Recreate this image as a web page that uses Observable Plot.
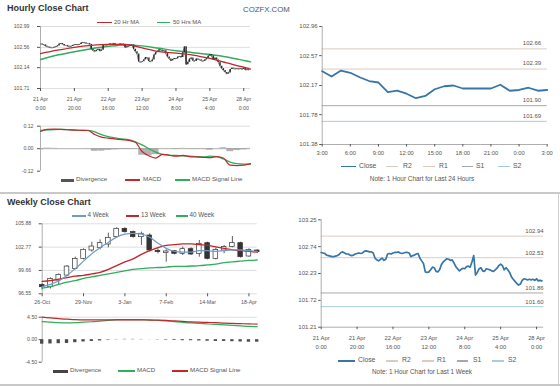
<!DOCTYPE html>
<html><head><meta charset="utf-8">
<script src="https://cdn.jsdelivr.net/npm/d3@7"></script>
<script src="https://cdn.jsdelivr.net/npm/@observablehq/plot@0.6"></script>
<style>
body{margin:0;background:#fff;}
#root{position:relative;width:560px;height:386px;overflow:hidden;font-family:"Liberation Sans",Arial,sans-serif;background:#fff;}
</style></head><body><div id="root"></div>
<script>
// ---------- DATA ----------
const hrTicks = [0,20,40,60,80,100,120];
const hrTickLabels = ["21 Apr\n0:00","21 Apr\n20:00","22 Apr\n16:00","23 Apr\n12:00","24 Apr\n8:00","25 Apr\n4:00","28 Apr\n0:00"];
const hrYTicks = [101.71,102.14,102.56,102.99];
const hourClose = [102.63,102.62,102.61,102.58,102.57,102.56,102.55,102.55,102.56,102.57,
 102.59,102.63,102.64,102.62,102.60,102.60,102.58,102.57,102.58,102.60,
 102.61,102.62,102.61,102.62,102.65,102.66,102.65,102.64,102.64,102.62,
 102.52,102.49,102.47,102.50,102.52,102.48,102.50,102.60,102.61,102.60,
 102.62,102.63,102.63,102.64,102.62,102.61,102.62,102.63,102.63,102.62,
 102.55,102.57,102.58,102.60,102.61,102.52,102.47,102.42,102.26,102.25,
 102.26,102.30,102.35,102.34,102.27,102.26,102.30,102.40,102.45,102.48,
 102.51,102.50,102.48,102.49,102.43,102.36,102.32,102.28,102.31,102.33,
 102.32,102.36,102.37,102.35,102.45,102.57,102.20,102.25,102.32,102.34,
 102.28,102.27,102.32,102.31,102.30,102.28,102.27,102.30,102.33,102.38,
 102.41,102.38,102.30,102.34,102.30,102.25,102.17,102.12,102.08,102.04,
 102.01,102.03,102.10,102.13,102.12,102.11,102.12,102.11,102.12,102.10,
 102.13,102.09,102.10,102.09];
const maHours = [0,10,20,30,40,50,60,70,80,90,100,110,120,124];
const ma20 = [102.43,102.50,102.56,102.60,102.62,102.62,102.55,102.47,102.44,102.40,102.33,102.24,102.15,102.11];
const ma50 = [102.31,102.40,102.47,102.53,102.58,102.61,102.59,102.54,102.49,102.45,102.41,102.36,102.29,102.26];

const macdHours = [0,4,8,12,16,20,24,28,32,36,40,44,48,52,56,60,64,68,72,76,80,84,88,92,96,100,104,108,112,116,120,124];
const hMacd = [0.092,0.103,0.104,0.103,0.101,0.099,0.098,0.097,0.076,0.062,0.056,0.052,0.048,0.044,0.034,-0.015,-0.038,-0.050,-0.030,-0.035,-0.040,-0.036,-0.042,-0.044,-0.046,-0.048,-0.042,-0.050,-0.088,-0.090,-0.088,-0.080];
const hSignal = [0.098,0.100,0.102,0.103,0.102,0.100,0.098,0.098,0.090,0.075,0.065,0.058,0.052,0.048,0.036,0.020,0.000,-0.018,-0.030,-0.034,-0.036,-0.038,-0.040,-0.042,-0.044,-0.040,-0.042,-0.055,-0.072,-0.080,-0.082,-0.082];
const hDiv = [-0.006,0.003,0.002,0,0,0,0,-0.001,-0.014,-0.013,-0.009,-0.006,-0.004,-0.004,-0.002,-0.035,-0.038,-0.032,0,-0.001,-0.004,0.002,-0.002,-0.002,-0.002,-0.008,0,0.005,-0.016,-0.010,-0.006,0.002];
const hMacdTicks = [-0.12,0,0.12];

const wkTicks = [0,5,10,15,20,25];
const wkTickLabels = ["26-Oct","29-Nov","3-Jan","7-Feb","14-Mar","18-Apr"];
const wkYTicks = [96.55,99.66,102.77,105.88];
const wkOpen  = [97.74,97.43,98.32,98.98,99.87,101.21,102.32,102.68,103.12,104.10,105.21,104.77,104.10,104.32,102.28,102.01,102.23,101.88,102.50,101.88,103.30,101.21,102.32,102.77,103.30,101.52,102.32];
const wkClose = [97.43,98.54,99.07,100.18,101.21,102.41,102.85,103.30,104.01,105.21,104.77,104.10,104.55,102.32,102.10,102.19,101.88,102.50,101.79,103.21,101.21,102.41,102.77,103.30,101.43,102.41,102.10];
const wkHigh  = [97.87,98.67,99.21,100.32,101.43,102.54,103.43,103.74,104.63,105.35,105.35,104.90,104.77,104.55,102.54,102.41,102.32,102.77,102.68,103.66,103.43,102.63,102.99,104.19,103.43,102.54,102.41];
const wkLow   = [97.07,97.20,97.65,98.85,99.74,101.07,102.10,102.41,102.68,104.01,104.63,103.97,102.99,102.10,101.88,100.76,101.74,101.65,101.65,101.43,101.07,101.07,101.88,102.68,101.30,101.43,101.96];
const wk4  = [97.5,97.8,98.3,99.0,99.9,100.9,101.9,102.7,103.4,104.1,104.5,104.6,104.5,104.1,103.3,102.6,102.2,102.1,102.1,102.3,102.3,102.2,102.3,102.4,102.4,102.3,102.2];
const wk13 = [98.2,98.3,98.5,98.7,98.9,99.0,99.2,99.4,99.8,100.3,100.8,101.2,101.8,102.3,102.7,103.0,103.1,103.2,103.2,103.1,103.0,102.8,102.6,102.4,102.3,102.2,102.1];
const wk40 = [97.3,97.5,97.8,98.1,98.3,98.6,98.8,99.0,99.2,99.4,99.6,99.8,99.9,100.0,100.05,100.1,100.2,100.2,100.25,100.3,100.4,100.5,100.7,100.8,100.9,101.0,101.05];
const wMacd   = [3.6,3.5,3.4,3.35,3.4,3.5,3.6,3.7,3.85,4.0,4.03,4.03,4.0,3.95,3.85,3.75,3.6,3.45,3.35,3.25,3.15,3.05,2.95,2.85,2.75,2.65,2.6];
const wSignal = [4.5,4.35,4.2,4.1,4.0,3.95,3.95,3.95,3.95,3.95,3.96,3.96,3.95,3.93,3.9,3.85,3.75,3.65,3.55,3.5,3.45,3.4,3.3,3.25,3.2,3.16,3.12];
const wDiv    = [-0.9,-0.85,-0.8,-0.75,-0.6,-0.45,-0.35,-0.25,-0.1,0.05,0.07,0.07,0.05,0.02,-0.05,-0.1,-0.15,-0.2,-0.2,-0.25,-0.3,-0.35,-0.35,-0.4,-0.45,-0.5,-0.5];
const wMacdTicks = [-4.5,0,4.5];

const d24Ticks = [0,3,6,9,12,15,18,21,24];
const d24TickLabels = ["3:00","6:00","9:00","12:00","15:00","18:00","21:00","0:00","3:00"];
const d24YTicks = [101.38,101.78,102.17,102.57,102.96];
const close24 = [102.36,102.29,102.37,102.34,102.28,102.23,102.21,102.08,102.10,102.06,102.00,102.03,102.12,102.16,102.17,102.13,102.13,102.13,102.13,102.18,102.10,102.11,102.14,102.10,102.11];
const levelNames = ["R2","R1","S1","S2"];
const levelColors = ["#d8cdbf","#e5c7bf","#a8a8a8","#a9cce6"];
const levels24 = [102.66,102.39,101.90,101.69];
const levelsWk = [102.94,102.53,101.86,101.60];
const wkHrYTicks = [101.21,101.72,102.23,102.74,103.25];

// ---------- HELPERS ----------
const root = document.getElementById("root");
const RED = "#c1272d", GREEN = "#2fae5c", BLUE = "#6f9cc6", CLOSE = "#3676a8";
const FONT = "Liberation Sans, Arial, sans-serif";
function place(el, left, top){ el.style.position="absolute"; el.style.left=left+"px"; el.style.top=top+"px"; root.appendChild(el); }
function text(str, left, cy, fs, opts={}){
  const d=document.createElement("div"); d.textContent=str;
  d.style.cssText=`position:absolute;top:${cy-fs/2-0.5}px;font-size:${fs}px;line-height:1;color:${opts.color||"#555"};white-space:nowrap;font-weight:${opts.bold?"bold":"normal"};`;
  if (opts.center){ d.style.left=(left-100)+"px"; d.style.width="200px"; d.style.textAlign="center"; } else d.style.left=left+"px";
  root.appendChild(d);
}
function box(left, top, w, h, c){ const d=document.createElement("div"); d.style.cssText=`position:absolute;left:${left}px;top:${top}px;width:${w}px;height:${h}px;background:${c};`; root.appendChild(d); }
function legend(cy, items, fs){
  items.forEach(it=>{ const t=it.t||1.2; box(it.x1, cy-t/2, it.x2-it.x1, t, it.c); text(it.label, it.tx, cy, fs); });
}
const style = {fontFamily:FONT, background:"transparent", color:"#555", overflow:"visible"};

// ---------- HOURLY CANDLE ----------
const hourly = hourClose.map((c,i)=>({h:i, close:c, open: i>0 ? hourClose[i-1] : c}));
const maData = maHours.map((h,i)=>({h, ma20:ma20[i], ma50:ma50[i]}));
place(Plot.plot({
  width:280, height:112, marginLeft:40, marginRight:30, marginTop:26, marginBottom:24, style,
  x:{domain:[0,124]}, y:{domain:[101.71,102.99]},
  marks:[
    Plot.ruleY(hrYTicks,{stroke:"#d6d6d6", strokeWidth:0.8}),
    Plot.ruleX([0],{stroke:"#999", strokeWidth:0.8}),
    Plot.line(maData,{x:"h", y:"ma50", stroke:GREEN, strokeWidth:1.5, curve:"monotone-x"}),
    Plot.line(hourly,{x:"h", y:"close", stroke:"#555", strokeWidth:0.8}),
    Plot.ruleX(hourly,{x:"h", y1:"open", y2:"close", stroke:"#2a2a2a", strokeWidth:1.4}),
    Plot.line(maData,{x:"h", y:"ma20", stroke:RED, strokeWidth:1.3, curve:"monotone-x"}),
    Plot.axisY({ticks:hrYTicks, tickFormat:d=>d.toFixed(2), tickSize:3, tickPadding:8, fontSize:5.2, label:null}),
    Plot.axisX({ticks:hrTicks, tickFormat:d=>hrTickLabels[d/20], tickSize:3, tickPadding:4, fontSize:5.2, lineHeight:1.6, label:null})
  ]
}), 0, 0);

// ---------- HOURLY MACD ----------
const hm = macdHours.map((h,i)=>({h, macd:hMacd[i], sig:hSignal[i], div:hDiv[i]}));
place(Plot.plot({
  width:280, height:55, marginLeft:40, marginRight:30, marginTop:5.7, marginBottom:4.3, style,
  x:{domain:[0,124], axis:null}, y:{domain:[-0.12,0.12]},
  marks:[
    Plot.ruleY([0.12],{stroke:"#d6d6d6", strokeWidth:0.8}),
    Plot.rect(hm,{x1:d=>Math.max(0,d.h-2), x2:d=>Math.min(124,d.h+2), y1:d=>0, y2:"div", fill:"#b3b3b3"}),
    Plot.ruleY([0],{stroke:"#999", strokeWidth:0.8}),
    Plot.ruleX([0],{stroke:"#999", strokeWidth:0.8}),
    Plot.line(hm,{x:"h", y:"sig", stroke:GREEN, strokeWidth:1.3, curve:"monotone-x"}),
    Plot.line(hm,{x:"h", y:"macd", stroke:RED, strokeWidth:1.2, curve:"monotone-x"}),
    Plot.axisY({ticks:hMacdTicks, tickFormat:d=>d.toFixed(2), tickSize:3, tickPadding:4, fontSize:5.2, label:null})
  ]
}), 0, 120);

// ---------- WEEKLY CANDLE ----------
const wk = wkOpen.map((o,i)=>({i, open:o, close:wkClose[i], high:wkHigh[i], low:wkLow[i], m4:wk4[i], m13:wk13[i], m40:wk40[i]}));
place(Plot.plot({
  width:280, height:110, marginLeft:41.7, marginRight:23.3, marginTop:23.3, marginBottom:16.7, style,
  x:{domain:[0,26]}, y:{domain:[96.55,105.88]},
  marks:[
    Plot.ruleY(wkYTicks,{stroke:"#d6d6d6", strokeWidth:0.8}),
    Plot.ruleX([0],{stroke:"#999", strokeWidth:0.8}),
    Plot.ruleX(wk,{x:"i", y1:"low", y2:"high", stroke:"#333", strokeWidth:0.8}),
    Plot.rect(wk.filter(d=>d.close>=d.open),{x1:d=>d.i-0.28, x2:d=>d.i+0.28, y1:"open", y2:"close", fill:"#fff", stroke:"#333", strokeWidth:0.7}),
    Plot.rect(wk.filter(d=>d.close<d.open),{x1:d=>d.i-0.28, x2:d=>d.i+0.28, y1:"open", y2:"close", fill:"#333", stroke:"#333", strokeWidth:0.7}),
    Plot.line(wk,{x:"i", y:"m40", stroke:GREEN, strokeWidth:1.4, curve:"monotone-x"}),
    Plot.line(wk,{x:"i", y:"m13", stroke:RED, strokeWidth:1.4, curve:"monotone-x"}),
    Plot.line(wk,{x:"i", y:"m4", stroke:BLUE, strokeWidth:1.2, curve:"monotone-x"}),
    Plot.axisY({ticks:wkYTicks, tickFormat:d=>d.toFixed(2), tickSize:3, tickPadding:8, fontSize:5.2, label:null}),
    Plot.axisX({ticks:wkTicks, tickFormat:d=>wkTickLabels[d/5], tickSize:3, tickPadding:3, fontSize:5.3, label:null})
  ]
}), 0, 200);

// ---------- WEEKLY MACD ----------
const wm = wMacd.map((m,i)=>({i, macd:m, sig:wSignal[i], div:wDiv[i]}));
place(Plot.plot({
  width:280, height:56, marginLeft:41.7, marginRight:23.3, marginTop:6.7, marginBottom:4.3, style,
  x:{domain:[0,26], axis:null}, y:{domain:[-4.5,4.5]},
  marks:[
    Plot.ruleY([4.5],{stroke:"#d6d6d6", strokeWidth:0.8}),
    Plot.ruleX([0],{stroke:"#999", strokeWidth:0.8}),
    Plot.rect(wm,{x1:d=>d.i-0.2, x2:d=>d.i+0.2, y1:d=>0, y2:"div", fill:"#4a4a4a"}),
    Plot.line(wm,{x:"i", y:"macd", stroke:GREEN, strokeWidth:1.2, curve:"monotone-x"}),
    Plot.line(wm,{x:"i", y:"sig", stroke:RED, strokeWidth:1.2, curve:"monotone-x"}),
    Plot.axisY({ticks:wMacdTicks, tickFormat:d=>d.toFixed(2), tickSize:3, tickPadding:2, fontSize:5.2, label:null})
  ]
}), 0, 310);

// ---------- 24 HOUR CLOSE ----------
const d24 = close24.map((c,i)=>({h:i, c}));
const lv24 = levelNames.map((n,i)=>({n, v:levels24[i], col:levelColors[i]}));
place(Plot.plot({
  width:280, height:162, marginLeft:41.7, marginRight:13.3, marginTop:26, marginBottom:18, style,
  x:{domain:[0,24]}, y:{domain:[101.38,102.96]}, color:{type:"identity"},
  marks:[
    Plot.ruleY(lv24,{y:"v", stroke:"col", strokeWidth:1}),
    Plot.text(lv24,{x:d=>24, y:"v", text:d=>d.v.toFixed(2), textAnchor:"end", dx:-6, dy:-5.5, fontSize:6, fill:"#555"}),
    Plot.ruleX([0],{stroke:"#999", strokeWidth:0.8}),
    Plot.ruleY([101.38],{stroke:"#999", strokeWidth:0.8}),
    Plot.line(d24,{x:"h", y:"c", stroke:CLOSE, strokeWidth:1.8}),
    Plot.axisY({ticks:d24YTicks, tickFormat:d=>d.toFixed(2), tickSize:2.5, tickPadding:2, fontSize:6, label:null}),
    Plot.axisX({ticks:d24Ticks, tickFormat:d=>d24TickLabels[d/3], tickSize:2.5, tickPadding:4, fontSize:5.8, label:null})
  ]
}), 280, 0);

// ---------- 1 WEEK HOURLY CLOSE ----------
const lvWk = levelNames.map((n,i)=>({n, v:levelsWk[i], col:levelColors[i]}));
place(Plot.plot({
  width:280, height:152, marginLeft:40.7, marginRight:16.8, marginTop:19.3, marginBottom:25.3, style,
  x:{domain:[0,124]}, y:{domain:[101.21,103.25]}, color:{type:"identity"},
  marks:[
    Plot.ruleY(lvWk,{y:"v", stroke:"col", strokeWidth:1}),
    Plot.text(lvWk,{x:d=>124, y:"v", text:d=>d.v.toFixed(2), textAnchor:"end", dx:0, dy:-5, fontSize:6, fill:"#555"}),
    Plot.ruleX([0],{stroke:"#999", strokeWidth:0.8}),
    Plot.ruleY([101.21],{stroke:"#999", strokeWidth:0.8}),
    Plot.line(hourly,{x:"h", y:"close", stroke:CLOSE, strokeWidth:1.7}),
    Plot.axisY({ticks:wkHrYTicks, tickFormat:d=>d.toFixed(2), tickSize:2.5, tickPadding:2, fontSize:6, label:null}),
    Plot.axisX({ticks:hrTicks, tickFormat:d=>hrTickLabels[d/20], tickSize:2.5, tickPadding:5, fontSize:5.8, lineHeight:1.4, label:null})
  ]
}), 280, 200);

// ---------- TEXT, LEGENDS, FRAMES ----------
text("Hourly Close Chart", 7, 9.3, 9, {bold:true, color:"#333"});
text("COZFX.COM", 243, 10, 7.8, {color:"#555"});
text("Weekly Close Chart", 7, 202.7, 9, {bold:true, color:"#333"});
box(0, 192, 560, 2, "#c8c8c8");
box(0, 383.5, 560, 2, "#c8c8c8");
box(557.5, 192, 1.5, 193, "#d0d0d0");

legend(22.7, [
  {x1:97, x2:112, c:RED, label:"20 Hr MA", tx:114},
  {x1:157, x2:170, c:GREEN, label:"50 Hrs MA", tx:173}], 6);
legend(180, [
  {x1:61, x2:74, c:"#555", t:3, label:"Divergence", tx:76},
  {x1:125, x2:140, c:RED, label:"MACD", tx:143},
  {x1:175, x2:190, c:GREEN, label:"MACD Signal Line", tx:192}], 6.2);
legend(216, [
  {x1:72, x2:86, c:BLUE, label:"4 Week", tx:87.5},
  {x1:126, x2:139, c:RED, label:"13 Week", tx:141},
  {x1:176, x2:188, c:GREEN, label:"40 Week", tx:189.5}], 6.3);
legend(371, [
  {x1:53, x2:68, c:"#444", t:3, label:"Divergence", tx:70},
  {x1:118, x2:135, c:GREEN, label:"MACD", tx:137},
  {x1:172, x2:188, c:RED, label:"MACD Signal Line", tx:190}], 6.2);
legend(166.7, [
  {x1:341, x2:356, c:CLOSE, label:"Close", tx:359},
  {x1:386, x2:398, c:levelColors[0], label:"R2", tx:403},
  {x1:423, x2:435, c:levelColors[1], label:"R1", tx:439},
  {x1:462, x2:473, c:levelColors[2], label:"S1", tx:476},
  {x1:498, x2:510, c:levelColors[3], label:"S2", tx:513}], 6.8);
text("Note: 1 Hour Chart for Last 24 Hours", 422, 180, 6.4, {center:true});
legend(361, [
  {x1:338, x2:355, c:CLOSE, label:"Close", tx:358},
  {x1:386, x2:398, c:levelColors[0], label:"R2", tx:402},
  {x1:422, x2:434, c:levelColors[1], label:"R1", tx:437},
  {x1:457, x2:468, c:levelColors[2], label:"S1", tx:473},
  {x1:492, x2:504, c:levelColors[3], label:"S2", tx:508}], 6.8);
text("Note: 1 Hour Chart for Last 1 Week", 422, 373, 6.4, {center:true});
</script></body></html>
